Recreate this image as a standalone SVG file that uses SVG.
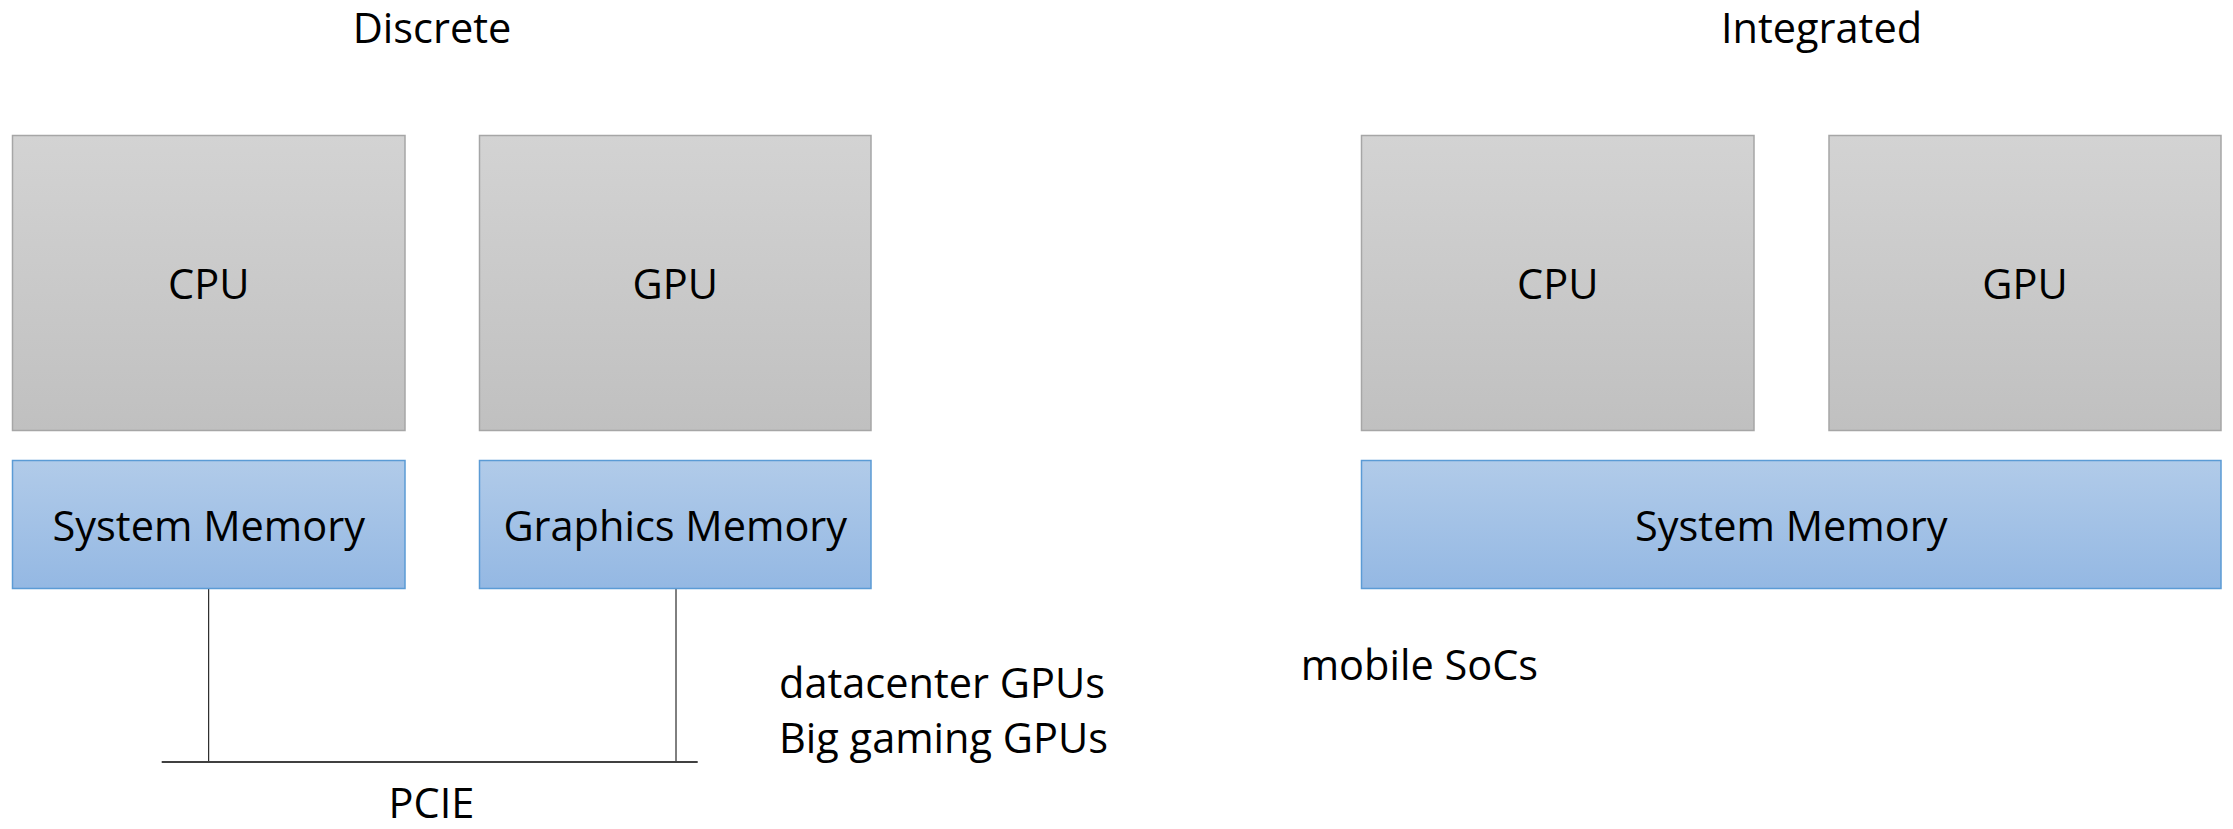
<svg xmlns="http://www.w3.org/2000/svg" width="2233" height="829" viewBox="0 0 2233 829">
  <defs>
    <linearGradient id="grayFill" x1="0" y1="0" x2="0" y2="1">
      <stop offset="0" stop-color="#d3d3d3"/>
      <stop offset="1" stop-color="#c0c0c0"/>
    </linearGradient>
    <linearGradient id="blueFill" x1="0" y1="0" x2="0" y2="1">
      <stop offset="0" stop-color="#b1cbe9"/>
      <stop offset="1" stop-color="#94b8e3"/>
    </linearGradient>
  </defs>
  <style>
    text { font-family: "Open Sans", "Noto Sans", "Liberation Sans", sans-serif; font-size: 41.5px; fill: #000; }
    .mid { text-anchor: middle; }
    .chip { fill: url(#grayFill); stroke: #a6a6a6; stroke-width: 1.5; }
    .mem { fill: url(#blueFill); stroke: #5b9bd5; stroke-width: 1.5; }
    .drop { stroke: #000; stroke-width: 1; fill: none; }
    .bus { stroke: #404040; stroke-width: 2; fill: none; }
  </style>
  <rect width="2233" height="829" fill="#fff"/>

  <!-- section titles -->
  <text id="title-discrete" class="mid" x="432" y="42.7">Discrete</text>
  <text id="title-integrated" class="mid" x="1821.5" y="42.7">Integrated</text>

  <!-- connectors: memory drops onto the PCIE bus -->
  <g id="connectors">
    <line class="drop" x1="208.7" y1="589" x2="208.7" y2="762"/>
    <line class="drop" x1="676" y1="589" x2="676" y2="762"/>
    <line class="bus" x1="161.7" y1="762" x2="697.7" y2="762"/>
  </g>

  <!-- discrete layout -->
  <g id="d-cpu">
    <rect class="chip" x="12.5" y="135.5" width="392.5" height="295"/>
    <text class="mid" x="208.75" y="299.3">CPU</text>
  </g>
  <g id="d-gpu">
    <rect class="chip" x="479.5" y="135.5" width="391.5" height="295"/>
    <text class="mid" x="675.25" y="299.3">GPU</text>
  </g>
  <g id="d-sysmem">
    <rect class="mem" x="12.5" y="460.5" width="392.5" height="128"/>
    <text class="mid" x="208.75" y="540.7">System Memory</text>
  </g>
  <g id="d-gfxmem">
    <rect class="mem" x="479.5" y="460.5" width="391.5" height="128"/>
    <text class="mid" x="675.25" y="540.7">Graphics Memory</text>
  </g>

  <!-- integrated layout -->
  <g id="i-cpu">
    <rect class="chip" x="1361.5" y="135.5" width="392.5" height="295"/>
    <text class="mid" x="1557.75" y="299.3">CPU</text>
  </g>
  <g id="i-gpu">
    <rect class="chip" x="1829" y="135.5" width="392" height="295"/>
    <text class="mid" x="2025" y="299.3">GPU</text>
  </g>
  <g id="i-sysmem">
    <rect class="mem" x="1361.5" y="460.5" width="859.5" height="128"/>
    <text class="mid" x="1791.25" y="540.7">System Memory</text>
  </g>

  <!-- annotations -->
  <text id="pcie-label" class="mid" x="431.5" y="818">PCIE</text>
  <text id="discrete-examples" x="779" y="698.3">datacenter GPUs<tspan x="779" y="753.3">Big gaming GPUs</tspan></text>
  <text id="integrated-examples" x="1300.7" y="680">mobile SoCs</text>
</svg>
